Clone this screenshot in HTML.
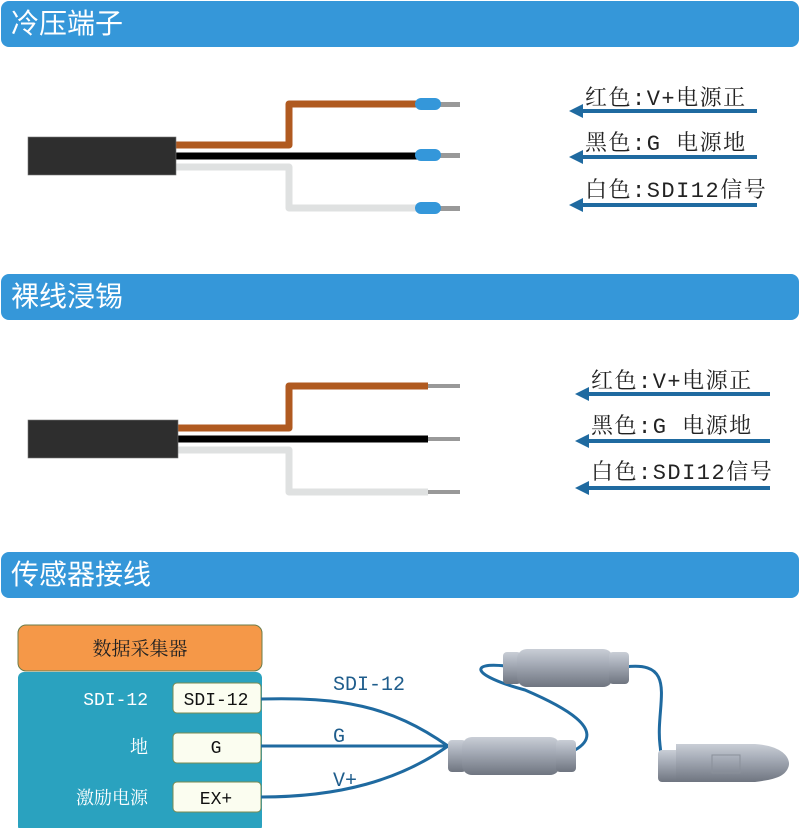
<!DOCTYPE html>
<html><head><meta charset="utf-8"><style>
body{margin:0;width:800px;height:828px;background:#fff;overflow:hidden;position:relative;font-family:"Liberation Sans","Noto Sans CJK SC",sans-serif}
.bar{position:absolute;left:1px;width:798px;height:46px;background:#3597d9;border-radius:8px;color:#fff;font-size:28px;line-height:46px;padding-left:10px;box-sizing:border-box}
</style></head><body>
<div class="bar" style="top:1px">冷压端子</div>
<div class="bar" style="top:274px">裸线浸锡</div>
<div class="bar" style="top:552px">传感器接线</div>
<svg width="800" height="828" style="position:absolute;left:0;top:0">
<defs>
<marker id="ar" markerWidth="14" markerHeight="14" refX="3" refY="7" orient="auto" markerUnits="userSpaceOnUse"><path d="M0,0 L14,7 L0,14 Z" fill="#1f6aa0"/></marker>
<linearGradient id="cg" x1="0" y1="0" x2="0" y2="1"><stop offset="0" stop-color="#c9ced6"/><stop offset="0.35" stop-color="#a9afba"/><stop offset="1" stop-color="#6f7580"/></linearGradient>
</defs>
<g fill="none" stroke-linejoin="round">
<path d="M175,145 H289 V104 H418" stroke="#b05a20" stroke-width="7"/>
<path d="M175,156 H418" stroke="#000" stroke-width="7"/>
<path d="M175,167 H289 V208 H418" stroke="#dfe1e1" stroke-width="7"/>
<path d="M178,428 H289 V386 H428" stroke="#b05a20" stroke-width="7"/>
<path d="M178,439 H428" stroke="#000" stroke-width="7"/>
<path d="M178,450 H289 V492 H428" stroke="#dfe1e1" stroke-width="7"/>
</g>
<rect x="28" y="137" width="148" height="38" fill="#2e2e2e" stroke="#777" stroke-width="0.6"/>
<rect x="28" y="420" width="150" height="38" fill="#2e2e2e" stroke="#777" stroke-width="0.6"/>
<g fill="#999">
<rect x="438" y="102" width="22" height="5"/><rect x="438" y="153" width="22" height="5"/><rect x="438" y="206" width="22" height="5"/>
<rect x="428" y="384" width="32" height="4"/><rect x="428" y="437" width="32" height="4"/><rect x="428" y="490" width="32" height="4"/>
</g>
<g fill="#3497da">
<rect x="415" y="98" width="26" height="12" rx="6"/><rect x="415" y="149" width="26" height="12" rx="6"/><rect x="415" y="202" width="26" height="12" rx="6"/>
</g>
<g stroke="#1f6aa0" stroke-width="4" marker-end="url(#ar)">
<line x1="757" y1="111" x2="580" y2="111"/><line x1="757" y1="157" x2="580" y2="157"/><line x1="757" y1="205" x2="580" y2="205"/>
<line x1="770" y1="394" x2="586" y2="394"/><line x1="770" y1="441" x2="586" y2="441"/><line x1="770" y1="488" x2="586" y2="488"/>
</g>
<g font-family="Liberation Mono,Noto Serif CJK SC,serif" font-size="22" fill="#222" letter-spacing="1.5">
<text x="585" y="105">红色:V+电源正</text><text x="585" y="150">黑色:G 电源地</text><text x="585" y="197">白色:SDI12信号</text>
<text x="591" y="388">红色:V+电源正</text><text x="591" y="433">黑色:G 电源地</text><text x="591" y="479">白色:SDI12信号</text>
</g>
<rect x="18" y="625" width="244" height="46" rx="8" fill="#f59848" stroke="#6b7d4a" stroke-width="1"/>
<text x="140" y="655" text-anchor="middle" font-size="19" fill="#222" font-family="Noto Serif CJK SC,serif">数据采集器</text>
<rect x="18" y="672" width="244" height="160" rx="6" fill="#2aa2bf"/>
<g font-family="Liberation Mono,Noto Serif CJK SC,serif" font-size="18" fill="#fff" text-anchor="end">
<text x="148" y="705">SDI-12</text><text x="148" y="753">地</text><text x="148" y="804">激励电源</text></g>
<g fill="#fbfdf0" stroke="#7a8a50" stroke-width="1">
<rect x="173" y="683" width="88" height="30" rx="4"/><rect x="173" y="733" width="88" height="30" rx="4"/><rect x="173" y="782" width="88" height="30" rx="4"/></g>
<g font-family="Liberation Mono,serif" font-size="18" fill="#111" text-anchor="middle">
<text x="216" y="705">SDI-12</text><text x="216" y="753">G</text><text x="216" y="804">EX+</text></g>
<g fill="none" stroke="#1f6aa0" stroke-width="3">
<path d="M261,746 H448"/>
<path d="M261,699 C340,697 390,705 448,746"/>
<path d="M261,797 C340,797 400,780 448,746"/>
<path d="M575,750 C610,730 560,705 525,690 C470,675 470,662 505,666"/>
<path d="M625,667 C680,660 655,705 660,745 C662,760 660,765 665,768"/>
</g>
<g font-family="Liberation Mono,serif" font-size="20" fill="#1f5d8c">
<text x="333" y="690">SDI-12</text><text x="333" y="742">G</text><text x="333" y="786">V+</text></g>
<rect x="448" y="740" width="18" height="32" rx="4" fill="url(#cg)"/>
<rect x="462" y="737" width="98" height="38" rx="10" fill="url(#cg)"/>
<rect x="556" y="740" width="20" height="32" rx="4" fill="url(#cg)"/>
<rect x="503" y="652" width="18" height="32" rx="4" fill="url(#cg)"/>
<rect x="517" y="649" width="96" height="38" rx="10" fill="url(#cg)"/>
<rect x="609" y="652" width="20" height="32" rx="4" fill="url(#cg)"/>
<rect x="658" y="750" width="22" height="32" rx="4" fill="url(#cg)"/>
<path d="M676,744 H755 C785,746 792,760 788,768 C784,778 770,780 755,782 H676 Z" fill="url(#cg)"/>
<rect x="712" y="755" width="28" height="18" fill="none" stroke="#8a909a" stroke-width="1"/>
</svg>
</body></html>
